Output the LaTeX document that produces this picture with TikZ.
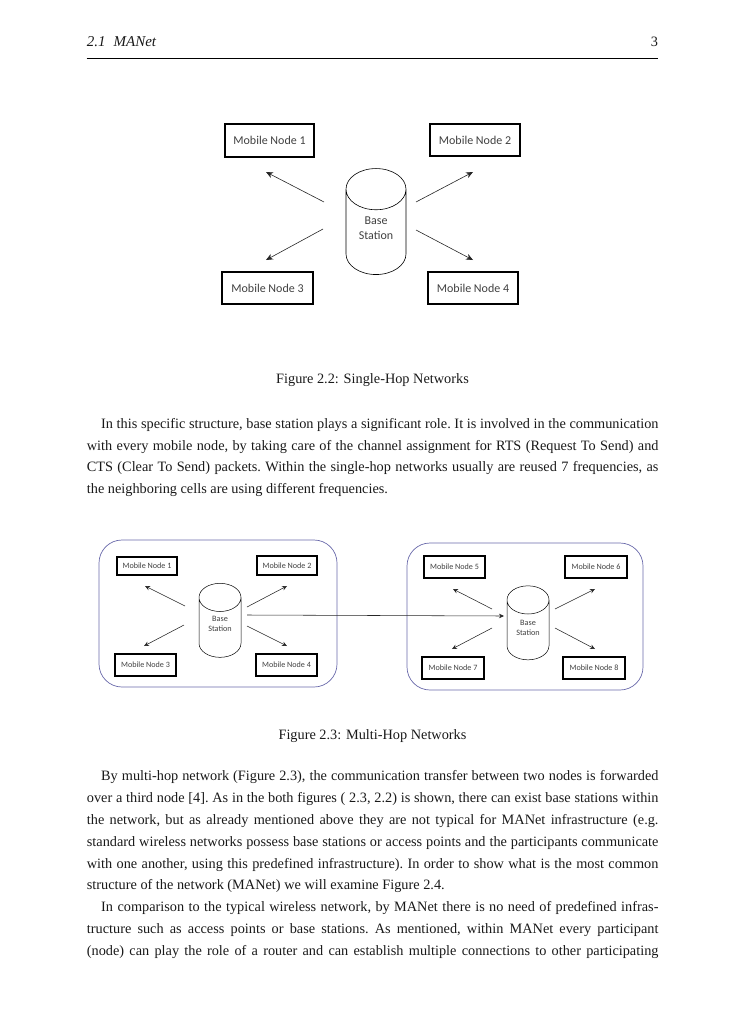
\documentclass[tikz,border=0pt]{standalone}
\usepackage{fontspec}
\setmainfont{Liberation Serif}
\newfontfamily\boxfont{Carlito}
\usetikzlibrary{arrows.meta, positioning, shapes.geometric}

\def \xleft{86.7}
\def \xindent{101}
\def \xright{658.3}
\newcommand{\fullline}[1]{\makebox[571.6pt][s]{\frenchspacing #1}}
\newcommand{\indentline}[1]{\makebox[557.3pt][s]{\frenchspacing #1}}
\definecolor{framecol}{RGB}{105,105,170}

\tikzset{
  textline/.style={anchor=base west, inner sep=0pt, font=\fontsize{14.3}{16}\selectfont, text=black!90},
  mobilebig/.style={draw, line width=1.6pt, inner sep=0pt, text=black!75, font=\boxfont\fontsize{12}{15}\selectfont},
  mobilesmall/.style={draw, line width=1.3pt, inner sep=0pt, text=black!75, font=\boxfont\fontsize{8.1}{10}\selectfont},
  basebig/.style={draw, cylinder, shape border rotate=90, aspect=1.2, minimum width=60pt, minimum height=106pt,
    inner sep=0pt, align=center, text=black!75, line width=0.6pt, font=\boxfont\fontsize{12}{15}\selectfont},
  basesmall/.style={draw, cylinder, shape border rotate=90, aspect=1.2, minimum width=42pt, minimum height=74pt,
    inner sep=0pt, align=center, text=black!75, line width=0.5pt, font=\boxfont\fontsize{8.2}{10}\selectfont},
  frame/.style={draw=framecol, line width=0.7pt, rounded corners=23pt, minimum height=147pt},
  flow/.style={-{Stealth[length=7pt, width=6pt]}, line width=0.6pt, black!85},
  flowsmall/.style={-{Stealth[length=5pt, width=4.5pt]}, line width=0.55pt, black!85}
}

\begin{document}
\begin{tikzpicture}[x=1pt, y=-1pt]
\useasboundingbox (0,0) rectangle (728,1030);

% page header
\node[textline, font=\fontsize{15}{16}\selectfont\itshape] (head) at (\xleft, 46.7) {2.1\hspace{8pt}MANet};
\node[textline, anchor=base east] (pageno) at (\xright, 46.7) {3};
\draw[line width=0.9pt] (head.base west |- 0,58) -- (pageno.base east |- 0,58);

% single-hop
\node[mobilebig, minimum width=89pt, minimum height=33pt] (moba) at (269.5, 140.5) {Mobile Node 1};
\node[mobilebig, minimum width=90pt, minimum height=32pt] (mobb) at (475, 140) {Mobile Node 2};
\node[mobilebig, minimum width=91pt, minimum height=32pt] (mobc) at (267.5, 288) {Mobile Node 3};
\node[mobilebig, minimum width=90pt, minimum height=32pt] (mobd) at (473, 288) {Mobile Node 4};
\node[basebig] (basea) at (376, 232) {Base\\Station\rule[-8pt]{0pt}{0pt}};

\draw[flow] ([shift={(-52,-30)}]basea.center) -- ([shift={(-3.5,31.5)}]moba.center);
\draw[flow] ([shift={(40,-30)}]basea.center) -- ([shift={(-2,32)}]mobb.center);
\draw[flow] ([shift={(-53,-3)}]basea.center) -- ([shift={(-1.5,-28)}]mobc.center);
\draw[flow] ([shift={(40,-2)}]basea.center) -- ([shift={(0,-28)}]mobd.center);

\node[textline, anchor=base] (capa) at (372.5, 383) {Figure 2.2: Single-Hop Networks};

% first paragraph
\node[textline] (lina) at (\xindent, 428.3) {\indentline{In this specific structure, base station plays a significant role. It is involved in the communication}};
\node[textline] (linb) at (\xleft, 450.1) {\fullline{with every mobile node, by taking care of the channel assignment for RTS (Request To Send) and}};
\node[textline] (linc) at (\xleft, 471.9) {\fullline{CTS (Clear To Send) packets. Within the single-hop networks usually are reused 7 frequencies, as}};
\node[textline] (lind) at (\xleft, 493.7) {the neighboring cells are using different frequencies.};

% multi-hop, frames first
\node[frame, minimum width=238pt] (framea) at (218, 613.5) {};
\node[frame, minimum width=236pt] (frameb) at (525, 616.5) {};

% left group
\node[mobilesmall, minimum width=60pt, minimum height=18pt] (smaa) at (147, 566) {Mobile Node 1};
\node[mobilesmall, minimum width=60pt, minimum height=19pt] (smab) at (287, 565.5) {Mobile Node 2};
\node[mobilesmall, minimum width=61pt, minimum height=22pt] (smac) at (145.5, 665) {Mobile Node 3};
\node[mobilesmall, minimum width=61pt, minimum height=22pt] (smad) at (286.5, 665) {Mobile Node 4};
\node[basesmall] (baseb) at (220, 627.5) {Base\\Station\rule[-8pt]{0pt}{0pt}};

\draw[flowsmall] ([shift={(-35,-21.5)}]baseb.center) -- ([shift={(-2,20)}]smaa.center);
\draw[flowsmall] ([shift={(27,-20.5)}]baseb.center) -- ([shift={(0,20.5)}]smab.center);
\draw[flowsmall] ([shift={(-36,-2.5)}]baseb.center) -- ([shift={(-1.5,-19)}]smac.center);
\draw[flowsmall] ([shift={(27,-1.5)}]baseb.center) -- ([shift={(0.5,-19)}]smad.center);

% right group
\node[mobilesmall, minimum width=61pt, minimum height=22pt] (smae) at (454.5, 567) {Mobile Node 5};
\node[mobilesmall, minimum width=62pt, minimum height=22pt] (smaf) at (596, 567) {Mobile Node 6};
\node[mobilesmall, minimum width=62pt, minimum height=22pt] (smag) at (453, 668) {Mobile Node 7};
\node[mobilesmall, minimum width=62pt, minimum height=22pt] (smah) at (594, 668) {Mobile Node 8};
\node[basesmall] (basec) at (528, 630) {Base\\Station\rule[-5pt]{0pt}{0pt}};

\draw[flowsmall] ([shift={(-36,-21)}]basec.center) -- ([shift={(-1.5,22)}]smae.center);
\draw[flowsmall] ([shift={(27,-21)}]basec.center) -- ([shift={(-1,22)}]smaf.center);
\draw[flowsmall] ([shift={(-36,-2)}]basec.center) -- ([shift={(-1,-19)}]smag.center);
\draw[flowsmall] ([shift={(27,-2)}]basec.center) -- ([shift={(1,-19)}]smah.center);

% link between the base stations
\draw[flowsmall] ([shift={(27,-12.5)}]baseb.center) -- ([shift={(-24,-14)}]basec.center);

\node[textline, anchor=base] (capb) at (372.5, 739.3) {Figure 2.3: Multi-Hop Networks};

% second paragraph
\node[textline] (lini) at (\xindent, 780.7) {\indentline{By multi-hop network (Figure 2.3), the communication transfer between two nodes is forwarded}};
\node[textline] (linj) at (\xleft, 802.5) {\fullline{over a third node [4]. As in the both figures ( 2.3, 2.2) is shown, there can exist base stations within}};
\node[textline] (link) at (\xleft, 824.3) {\fullline{the network, but as already mentioned above they are not typical for MANet infrastructure (e.g.}};
\node[textline] (linl) at (\xleft, 846.2) {\fullline{standard wireless networks possess base stations or access points and the participants communicate}};
\node[textline] (linm) at (\xleft, 868) {\fullline{with one another, using this predefined infrastructure). In order to show what is the most common}};
\node[textline] (linn) at (\xleft, 889.8) {structure of the network (MANet) we will examine Figure 2.4.};

% third paragraph
\node[textline] (lino) at (\xindent, 911.7) {\indentline{In comparison to the typical wireless network, by MANet there is no need of predefined infras-}};
\node[textline] (linp) at (\xleft, 933.5) {\fullline{tructure such as access points or base stations. As mentioned, within MANet every participant}};
\node[textline] (linq) at (\xleft, 955.3) {\fullline{(node) can play the role of a router and can establish multiple connections to other participating}};

\end{tikzpicture}
\end{document}
